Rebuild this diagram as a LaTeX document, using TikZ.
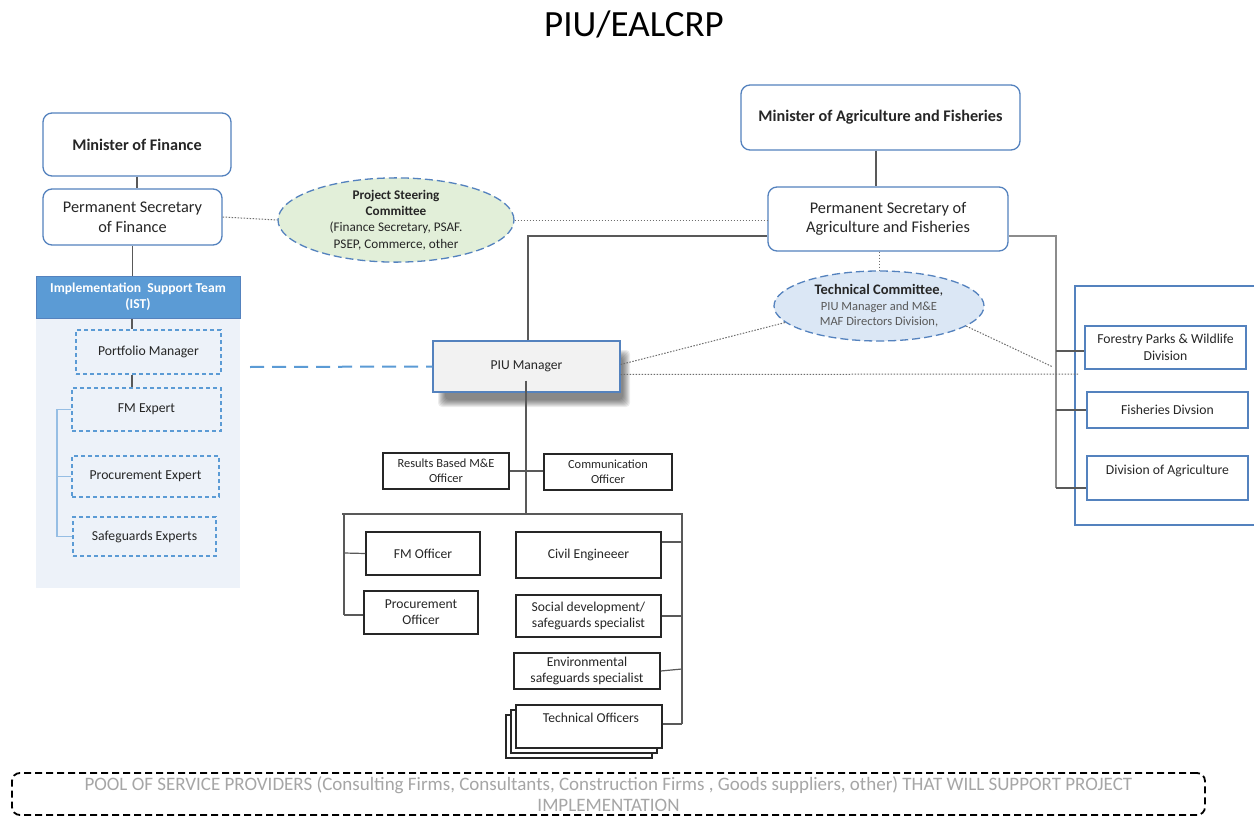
\documentclass[tikz,border=0pt]{standalone}
\usepackage{fontspec}
\setmainfont{Carlito}
\usetikzlibrary{shapes.geometric,calc}
\definecolor{boxblue}{RGB}{84,130,190}
\definecolor{istblue}{RGB}{91,155,213}
\definecolor{panelbg}{RGB}{237,242,249}
\definecolor{pscfill}{RGB}{226,239,217}
\definecolor{tcfill}{RGB}{219,231,245}
\definecolor{linegrey}{RGB}{89,89,89}
\definecolor{lightgrey}{RGB}{140,140,140}
\definecolor{dotgrey}{RGB}{110,110,110}
\definecolor{pooltext}{RGB}{166,166,166}
\definecolor{txt}{RGB}{38,38,38}
\definecolor{bracketblue}{RGB}{150,190,228}
\tikzset{
  fs/.style={font=\fontsize{#1}{1.2\dimexpr#1pt\relax}\selectfont},
  roundbox/.style={draw=boxblue,line width=1.3pt,rounded corners=9pt,fill=white,align=center,text=txt,inner sep=2pt},
  dashbox/.style={draw=istblue,line width=1.3pt,dash pattern=on 4pt off 3pt,align=center,text=txt,inner sep=2pt,fs=13.7},
  blackbox/.style={draw=txt,line width=1.5pt,fill=white,align=center,text=txt,inner sep=2pt,fs=13.6},
  bluebox/.style={draw=boxblue,line width=1.3pt,fill=white,align=center,text=txt,inner sep=2pt,fs=13.7},
  committee/.style={ellipse,draw=boxblue,line width=1.3pt,dash pattern=on 8pt off 4pt,align=center,text=txt,inner sep=0pt},
  solidline/.style={draw=linegrey,line width=1.2pt},
  greyline/.style={draw=lightgrey,line width=1.2pt},
  dotline/.style={draw=dotgrey,line width=1pt,dash pattern=on 1.5pt off 1.5pt},
  shadowlayer/.style={fill=black,fill opacity=0.075,rounded corners=4pt},
}
\begin{document}
\begin{tikzpicture}[x=1pt,y=-1pt]
\useasboundingbox[fill=white] (0,0) rectangle (1254,816);

% title
\node[fs=37,text=black] (title) at (634,24) {PIU/EALCRP};

% finance side
\node[roundbox,minimum width=188pt,minimum height=63pt,fs=16.2] (mof) at (137,144.5) {\textbf{Minister of Finance}};
\node[roundbox,minimum width=179pt,minimum height=56pt,fs=16.3] (psf) at (132.5,217) {Permanent Secretary\\of Finance};
\draw[solidline] (mof.south) -- (mof.south |- psf.north);

% IST panel
\fill[panelbg] (36,318) rectangle (240,588);
\node[draw=boxblue,line width=1pt,fill=istblue,minimum width=204pt,minimum height=42pt,text=white,align=center,fs=13.6,inner sep=0pt] (ist) at (138,297) {\textbf{Implementation\ \ Support Team}\\\textbf{(IST)}};
\draw[solidline] (ist.north -| psf.south) -- (psf.south);
\node[dashbox,minimum width=145pt,minimum height=44pt] (pm) at (148.5,352) {Portfolio Manager};
\node[dashbox,minimum width=149pt,minimum height=43pt] (fme) at (146.5,409.5) {FM Expert};
\node[dashbox,minimum width=147pt,minimum height=41pt] (pre) at (145.5,476.5) {Procurement Expert};
\node[dashbox,minimum width=143pt,minimum height=39pt] (sfe) at (144.5,536.5) {Safeguards Experts};
\draw[solidline] (ist.south -| 132,0) -- (pm.north -| 132,0);
\draw[solidline] (pm.south -| 132,0) -- (fme.north -| 132,0);
\coordinate (brk) at (57,409);
\draw[draw=bracketblue,line width=1.2pt] (fme.west) -- (brk |- fme.west) -- (brk |- sfe.west) -- (sfe.west);
\draw[draw=bracketblue,line width=1.2pt] (brk |- pre.west) -- (pre.west);

% steering committee
\node[committee,fill=pscfill,minimum width=236pt,minimum height=74pt,font=\fontsize{13.2}{16.2}\selectfont] (psc) at (396,220) {\textbf{Project Steering}\\\textbf{Committee}\\(Finance Secretary, PSAF.\\PSEP, Commerce, other};

% agriculture side
\node[roundbox,minimum width=279pt,minimum height=65pt,fs=16.2] (moa) at (880.5,117.5) {\textbf{Minister of Agriculture and Fisheries}};
\node[roundbox,minimum width=240pt,minimum height=64pt,fs=16.3] (psa) at (888,219) {Permanent Secretary of\\Agriculture and Fisheries};
\draw[solidline] (moa.south -| 876,0) -- (psa.north -| 876,0);

\draw[dotline] (psf.east) -- (psc.west);
\draw[dotline] (psc.east) -- ([yshift=-1pt]psa.west);

% technical committee
\node[committee,fill=tcfill,minimum width=210pt,minimum height=70pt,font=\fontsize{12.5}{15.5}\selectfont] (tc) at (879,306) {{\fontsize{14.5}{17}\selectfont\textbf{Technical Committee},}\\{\color{linegrey}PIU Manager and M\&E}\\{\color{linegrey}MAF Directors Division,}};
\draw[dotline] (psa.south -| tc.north) -- (tc.north);

% PIU manager shadow (soft, layered)
\foreach \i in {0,...,7} {
  \fill[shadowlayer] (441+\i-3,353+\i-3) rectangle (627-\i+3,404-\i+3);
}
\node[draw=boxblue,line width=1.3pt,fill=black!5,minimum width=187pt,minimum height=51pt,text=txt,fs=13.6] (piu) at (526.5,366.5) {PIU Manager};
\draw[solidline] (piu.north -| 528,0) -- ([yshift=-17pt]psa.west -| 528,0) -- ([yshift=-17pt]psa.west);
\coordinate (dashstart) at (250,367);
\draw[draw=istblue,line width=2pt,dash pattern=on 14pt off 8pt] (dashstart) -- (piu.west);

% divisions
\draw[draw=boxblue,line width=1.3pt] (1262,286) -- (1075,286) -- (1075,525) -- (1262,525);
\node[bluebox,minimum width=161pt,minimum height=43pt] (fpw) at (1165.5,347.5) {Forestry Parks \& Wildlife\\Division};
\node[bluebox,minimum width=161pt,minimum height=36pt] (fis) at (1167.5,410) {Fisheries Divsion};
\node[bluebox,minimum width=161pt,minimum height=44pt] (agr) at (1167.5,478) {};
\node[text=txt,fs=13.7] (agrtext) at (1167.5,471) {Division of Agriculture};
\coordinate (spine) at (1056,236);
\draw[greyline] ([yshift=-17pt]psa.east) -- (spine) -- (spine |- 0,488);
\draw[solidline] (spine |- 0,351) -- (fpw.west |- 0,351);
\draw[solidline] (spine |- fis.west) -- (fis.west);
\draw[solidline] (spine |- 0,488) -- (agr.west |- 0,488);

\coordinate (tcend) at (1053,367);
\coordinate (hdotend) at (1078,374);
\draw[dotline] ([yshift=2pt]piu.east) -- (tc.190);
\draw[dotline] (tc.347) -- (tcend);
\draw[dotline] ([yshift=-8pt]piu.east) -- (hdotend);

% PIU staff
\node[blackbox,minimum width=126pt,minimum height=36pt,fs=12.4] (mne) at (446,471) {Results Based M\&E\\Officer};
\node[blackbox,minimum width=128pt,minimum height=36pt,fs=12.4] (com) at (608,472) {Communication\\Officer};
\coordinate (bar) at (526,514);
\draw[solidline] ([yshift=-14pt]piu.center -| bar) -- (bar);
\draw[solidline] (mne.east) -- (mne.east -| com.west);
\coordinate (barL) at (342,514);
\coordinate (barR) at (683,514);
\draw[solidline] (barL) -- (barR);

\node[blackbox,minimum width=114pt,minimum height=43pt] (fmo) at (423,553.5) {FM Officer};
\node[blackbox,minimum width=114pt,minimum height=43pt] (pro) at (421,612.5) {Procurement\\Officer};
\node[blackbox,minimum width=145pt,minimum height=46pt] (civ) at (588.5,555) {Civil Engineeer};
\node[blackbox,minimum width=145pt,minimum height=42pt] (soc) at (588.5,616) {Social development/\\safeguards specialist};
\node[blackbox,minimum width=146pt,minimum height=36pt] (env) at (587,671) {Environmental\\safeguards specialist};
\node[blackbox,minimum width=146pt,minimum height=43pt] (teo3) at (579,736.5) {};
\node[blackbox,minimum width=146pt,minimum height=43pt] (teo2) at (584,731.5) {};
\node[blackbox,minimum width=146pt,minimum height=43pt] (teo) at (589,726.5) {};
\node[text=txt,fs=13.6] (teotext) at (591,718) {Technical Officers};

\draw[solidline] (344,514) -- (344,615);
\draw[solidline] (344,553) -- (fmo.west);
\draw[solidline] (344,615) -- (pro.west |- 0,615);
\draw[solidline] (682,514) -- (682,724);
\draw[solidline] (civ.east |- 0,542) -- (682,542);
\draw[solidline] (soc.east) -- (682,616);
\draw[solidline] (env.east) -- (682,669);
\draw[solidline] (teo.east |- 0,724) -- (682,724);

% pool
\node[draw=black,line width=1.8pt,dash pattern=on 7pt off 4pt,rounded corners=8pt,minimum width=1193pt,minimum height=42pt,text=pooltext,align=center,inner sep=0pt,font=\fontsize{19}{21.5}\selectfont] (pool) at (608.5,794) {POOL OF SERVICE PROVIDERS (Consulting Firms, Consultants, Construction Firms , Goods suppliers, other) THAT WILL SUPPORT PROJECT\\IMPLEMENTATION};
\end{tikzpicture}
\end{document}
